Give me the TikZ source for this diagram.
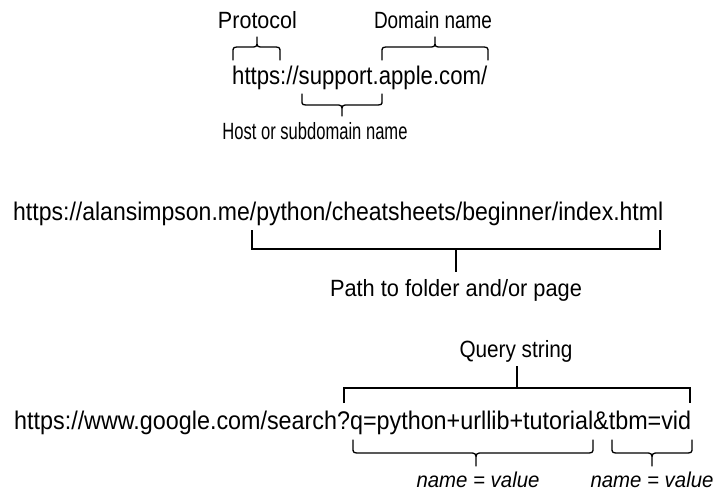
\documentclass[tikz,border=0pt]{standalone}
\usepackage{fontspec}
\setmainfont{Liberation Sans}
\newcommand\fitw[2]{\resizebox{#1}{\height}{#2}}
% x1, xm, x2, y of ends, y of flat part, y of tip
\newcommand\curlybrace[6]{%
  \draw[brc] (#1,#4) -- (#1,{#5+(#4-#5)*0.4}) .. controls (#1,#5) .. ({#1+8},#5)
    -- ({#2-7},#5) .. controls (#2,#5) .. (#2,{#5+(#6-#5)*0.6}) -- (#2,#6)
    (#2,{#5+(#6-#5)*0.6}) .. controls (#2,#5) .. ({#2+7},#5)
    -- ({#3-8},#5) .. controls (#3,#5) .. (#3,{#5+(#4-#5)*0.4}) -- (#3,#4);}
\begin{document}
\begin{tikzpicture}[x=1pt,y=-1pt,
  lbl/.style={inner sep=0pt, font=\fontsize{23.5}{27}\selectfont, anchor=base},
  urltxt/.style={inner sep=0pt, font=\fontsize{25.5}{29}\selectfont, anchor=base west},
  nv/.style={inner sep=0pt, font=\fontsize{21.5}{25}\selectfont\itshape, anchor=base},
  brc/.style={line width=1.3pt, line join=round, line cap=round},
  brk/.style={line width=1.3pt}]
\useasboundingbox[fill=white] (0,0) rectangle (716,493);

% --- first URL
\node[lbl] (proto) at (257.5,28) {\fitw{79pt}{Protocol}};
\node[lbl] (domain) at (433,28) {\fitw{118pt}{Domain name}};
\node[urltxt] (url1) at (232,84) {\fitw{255pt}{https://support.apple.com/}};
\node[lbl] (host) at (315,139) {\fitw{185pt}{Host or subdomain name}};
\curlybrace{233}{257}{280}{60}{47}{37}
\curlybrace{382}{435}{488}{60}{47}{37}
\curlybrace{302}{342}{382}{94}{105}{116}

% --- second URL
\node[urltxt] (url2) at (13,220) {\fitw{650pt}{https://alansimpson.me/python/cheatsheets/beginner/index.html}};
\node[lbl] (path) at (456,296) {\fitw{252pt}{Path to folder and/or page}};
\coordinate (pl) at (252,230);
\coordinate (pr) at (660,230);
\coordinate (pm) at (456,249);
\coordinate (pt) at (456,272);
\draw[brk] (pl) |- (pm) -| (pr);
\draw[brk] (pm) -- (pt);

% --- third URL
\node[lbl] (query) at (516,357) {\fitw{113pt}{Query string}};
\node[urltxt] (url3) at (14,429) {\fitw{677pt}{https://www.google.com/search?q=python+urllib+tutorial\&tbm=vid}};
\coordinate (ql) at (344,403);
\coordinate (qr) at (690,403);
\coordinate (qm) at (517,388);
\coordinate (qt) at (517,366);
\draw[brk] (ql) |- (qm) -| (qr);
\draw[brk] (qm) -- (qt);
\curlybrace{353}{476}{593}{440}{453}{466}
\curlybrace{612}{652}{692}{440}{453}{466}
\node[nv] (nv1) at (478,487) {\fitw{123pt}{name = value}};
\node[nv] (nv2) at (652,487) {\fitw{123pt}{name = value}};
\end{tikzpicture}
\end{document}
